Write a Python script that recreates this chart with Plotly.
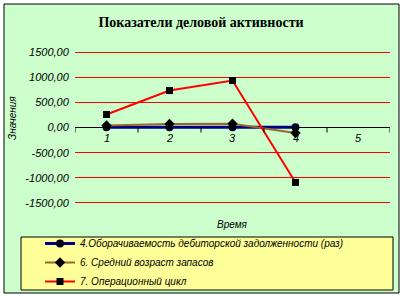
import plotly.graph_objects as go

periods = [1, 2, 3, 4]
all_periods = [1, 2, 3, 4, 5]
s1_name = "4.Оборачиваемость дебиторской задолженности (раз)"
s2_name = "6. Средний возраст запасов"
s3_name = "7. Операционный цикл"
s1 = [6.5, 7.0, 5.5, 4.0]
s2 = [40, 70, 75, -110]
s3 = [258, 734, 933, -1091]
ytick_vals = [-1500, -1000, -500, 0, 500, 1000, 1500]
ytick_text = ["-1500,00", "-1000,00", "-500,00", "0,00", "500,00", "1000,00", "1500,00"]

W, H = 402, 296
L, R, T, B = 75, 12, 51, 92
pw, ph = W - L - R, H - T - B
def px(x): return (x - L) / pw
def py(y): return (H - B - y) / ph

fig = go.Figure()
fig.add_trace(go.Scatter(x=periods, y=s1, name=s1_name, mode="lines+markers",
                         line=dict(color="#000080", width=3),
                         marker=dict(symbol="circle", size=8, color="#000020")))
fig.add_trace(go.Scatter(x=periods, y=s2, name=s2_name, mode="lines+markers",
                         line=dict(color="#996633", width=2),
                         marker=dict(symbol="diamond", size=8, color="#000000")))
fig.add_trace(go.Scatter(x=periods, y=s3, name=s3_name, mode="lines+markers",
                         line=dict(color="#FF0000", width=2),
                         marker=dict(symbol="square", size=7, color="#000000")))

shapes = [
    dict(type="rect", xref="paper", yref="paper", x0=px(4), x1=px(399), y0=py(293), y1=py(4),
         fillcolor="#CCFFCC", line=dict(color="black", width=1), layer="below"),
    dict(type="rect", xref="paper", yref="paper", x0=px(21), x1=px(393), y0=py(290), y1=py(237),
         fillcolor="#FFFF99", line=dict(color="black", width=1), layer="below"),
]
for b in [0.5, 1.5, 2.5, 3.5, 4.5, 5.5]:
    shapes.append(dict(type="line", xref="x", yref="y", ysizemode="pixel", yanchor=0,
                       x0=b, x1=b, y0=0, y1=-5, line=dict(color="black", width=1)))

annotations = []
for p in all_periods:
    annotations.append(dict(x=p, y=0, xref="x", yref="y", text=str(p), showarrow=False,
                            yanchor="top", yshift=-2,
                            font=dict(family="Liberation Sans", size=11, color="black", style="italic")))
annotations.append(dict(x=px(232), y=py(224), xref="paper", yref="paper", text="Время", showarrow=False,
                        xanchor="center", yanchor="middle",
                        font=dict(family="Liberation Sans", size=10, color="black", style="italic")))
annotations.append(dict(x=px(12), y=py(118), xref="paper", yref="paper", text="Значения", showarrow=False,
                        textangle=-90, xanchor="center", yanchor="middle",
                        font=dict(family="Liberation Sans", size=10, color="black", style="italic")))

fig.update_layout(
    width=W, height=H, margin=dict(l=L, r=R, t=T, b=B, autoexpand=False),
    paper_bgcolor="white", plot_bgcolor="rgba(0,0,0,0)",
    title=dict(text="<b>Показатели деловой активности</b>", x=0.5, xref="container", xanchor="center",
               y=1 - 22 / H, yref="container", yanchor="middle",
               font=dict(family="Liberation Serif", size=14, color="black")),
    xaxis=dict(range=[0.5, 5.5], showgrid=False, showticklabels=False, zeroline=False, showline=False,
               ticks=""),
    yaxis=dict(range=[-1520, 1520], tickvals=ytick_vals, ticktext=ytick_text, showgrid=True,
               gridcolor="#FF0000", gridwidth=1, zeroline=True, zerolinecolor="black", zerolinewidth=1,
               showline=False, ticks="outside", ticklen=3, tickcolor="rgba(0,0,0,0)",
               tickfont=dict(family="Liberation Sans", size=11, color="black", style="italic")),
    legend=dict(x=40 / W, y=1 - 229 / H, xref="container", yref="container",
                xanchor="left", yanchor="top", bgcolor="rgba(0,0,0,0)",
                font=dict(family="Liberation Sans", size=10, color="black", style="italic"),
                tracegroupgap=0, itemwidth=30),
    shapes=shapes, annotations=annotations, showlegend=True,
)
fig.write_html("out.html")
